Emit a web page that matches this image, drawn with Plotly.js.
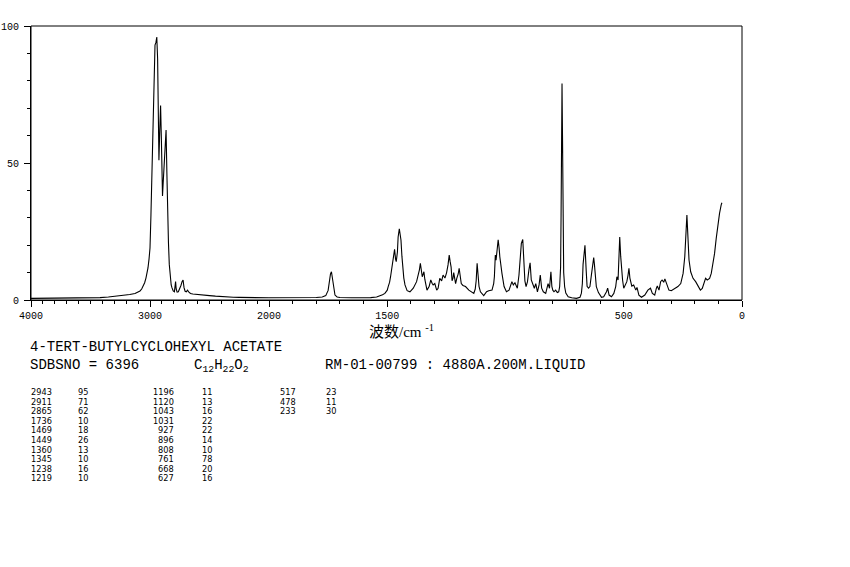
<!DOCTYPE html>
<html>
<head>
<meta charset="utf-8">
<script src="https://cdn.plot.ly/plotly-3.0.1.min.js"></script>
<style>html,body{margin:0;padding:0;background:#fff;}#chart{width:850px;height:567px;}</style>
</head>
<body>
<div id="chart"></div>
<script>
// ---- Spectrum, high-wavenumber panel (4000-2000 cm-1) ----
const wnHigh = [4000,3900,3800,3700,3600,3500,3420,3350,3294,3250,3210,3170,3126,3100,3084,3070,3059,3045,3034,3025,3017,3008,3000,2992,2983,2975,2966,2958,2950,2943,2936,2930,2925,2918,2911,2904,2898,2895,2889,2880,2873,2865,2858,2852,2845,2838,2830,2822,2815,2805,2795,2790,2785,2780,2772,2762,2750,2740,2730,2722,2714,2705,2695,2685,2675,2660,2640,2600,2550,2500,2450,2400,2350,2300,2250,2200,2150,2100,2050,2000];
const intHigh = [0.6,0.6,0.6,0.6,0.6,0.7,0.85,1.1,1.3,1.5,1.8,2.0,2.4,2.8,3.3,4.0,4.9,6.3,8,9.8,11.7,15,19,31,49,70,86,93,94,96,88,62,51,62,71,58,42,38,43,50,58,62,46,31,21,13,8,5.5,4.4,3.3,3.0,4.5,6.7,4.0,2.9,3.0,4.0,5.3,6.8,7.3,4.5,3.2,3.0,3.6,3.0,2.4,2.2,2.1,1.8,1.6,1.4,1.2,1.1,1.0,0.95,0.9,0.85,0.8,0.8,0.8];

// ---- Spectrum, low-wavenumber panel (2000-0 cm-1) ----
const wnLow = [2000,1950,1900,1850,1800,1775,1760,1750,1745,1740,1736,1732,1728,1721,1712,1700,1650,1600,1570,1545,1531,1520,1510,1500,1496,1490,1486,1481,1477,1472,1469,1465,1462,1457,1454,1449,1445,1442,1438,1435,1430,1425,1416,1404,1390,1376,1368,1364,1360,1356,1352,1348,1345,1341,1337,1332,1323,1316,1310,1306,1299,1291,1285,1278,1270,1264,1256,1249,1243,1238,1234,1230,1226,1222,1219,1215,1211,1206,1200,1196,1191,1187,1180,1169,1155,1145,1134,1128,1124,1120,1116,1112,1106,1092,1080,1071,1057,1050,1047,1043,1040,1035,1031,1027,1024,1015,1006,996,985,973,967,960,950,943,938,933,927,923,918,913,907,901,896,891,883,878,872,865,858,853,847,840,830,824,820,814,811,808,804,800,795,788,781,775,771,767,765,763,761,759,757,754,750,745,735,720,700,685,679,675,672,668,664,659,655,649,643,637,633,630,627,624,620,616,607,594,585,573,568,562,552,542,534,529,524,520,517,513,508,505,500,493,487,482,478,474,470,466,458,449,444,436,425,411,398,387,379,369,362,358,351,344,338,331,326,317,309,299,285,271,259,249,242,238,233,229,224,217,207,196,186,176,168,161,154,147,137,130,123,116,109,102,95,88,85];
const intLow = [0.8,0.8,0.8,0.8,0.9,1.1,1.6,3.5,6.7,9.5,10.3,8,4.9,1.8,1.1,0.9,0.8,0.8,0.85,1.1,1.5,1.9,2.4,3.6,4.9,6.5,8.5,11.5,14.6,17.5,18.5,15,14,17.5,23,26,24,21.9,16,12.2,8,5.5,3.4,3,4.3,6.7,9,11,13.4,10,8.5,9.5,10.3,7.5,5,3.6,4.9,7.3,6,5.5,6,3.6,4.3,7.9,7,9.1,8,10,12.8,16.4,14,12,7,8,10,7,6,7.9,9.5,11.6,8,6,5.3,4.9,3.6,3,2.4,4,7,13.4,8,5,3,1.6,3,3.4,3.6,6,8.5,16.4,14.5,20,22,19,15.8,9.7,4.9,3,3.6,6.7,5.5,6.3,4.3,9.1,17,20.7,22.1,14,7,4.9,6.7,11,13.6,7.3,5.5,4.3,6,3,5.5,9.1,4.3,3,2.4,4.9,6,4.3,7,10.3,5,3.6,3,3.6,2.7,3,4.9,12,31,70,79,60,31,10,4.9,2.5,1.2,0.8,0.6,1,2.5,6,13,16,20,11,5,4.3,4.9,9,11.6,14,15.5,13,9,4.9,2.7,1,1.2,3,4.3,1.8,1.2,2.4,4.9,8.5,7.3,16,23,16,9,7.3,4.3,6,6.7,9,11.6,8,6,5.1,5.5,3.6,4.6,1.8,1,1.8,3.6,4.3,2.4,1.8,4.3,5.1,3.6,6.7,7.3,6.5,7.7,5.5,3.6,3.4,4,4.9,6,9.7,15.8,25.5,31,23.7,14.6,10.3,7.9,6.7,4.9,3.6,4.2,6,7.9,7.3,7.9,9.7,12.8,17,22.5,28,31.6,34.7,35.5];

// ---- Axis tick labels ----
const xTicksHigh = [4000, 3000];
const xTicksLow = [2000, 1500, 500, 0];
const yTicks = [0, 50, 100];

// ---- Header texts ----
const compoundName = "4-TERT-BUTYLCYCLOHEXYL ACETATE";
const sdbsNo = "SDBSNO = 6396";
const formula = "C<sub>12</sub>H<sub>22</sub>O<sub>2</sub>";
const measurement = "RM-01-00799 : 4880A.200M.LIQUID";
const xTitle = "波数/cm <sup>-1</sup>";

// ---- Peak table ----
const peakWn1 = [2943,2911,2865,1736,1469,1449,1360,1345,1238,1219];
const peakInt1 = [95,71,62,10,18,26,13,10,16,10];
const peakWn2 = [1196,1120,1043,1031,927,896,808,761,668,627];
const peakInt2 = [11,13,16,22,22,14,10,78,20,16];
const peakWn3 = [517,478,233];
const peakInt3 = [23,11,30];

// ---- layout helpers (pixel -> paper) ----
const L = 31, R = 742, T = 26, B = 300;
const px = x => (x - L) / (R - L);
const py = y => (B - y) / (B - T);
const split = 238 / 711;

const lineStyle = {color: '#000', width: 1.1};
const traces = [
  {x: wnHigh, y: intHigh, type: 'scatter', mode: 'lines', line: lineStyle, xaxis: 'x', yaxis: 'y', hoverinfo: 'skip'},
  {x: wnLow, y: intLow, type: 'scatter', mode: 'lines', line: lineStyle, xaxis: 'x2', yaxis: 'y', hoverinfo: 'skip'}
];

const mono = 'Liberation Mono, DejaVu Sans Mono, monospace';
const tickFont = {family: mono, size: 10, color: '#000'};
const minorX = {tickmode: 'linear', tick0: 0, dtick: 100, ticks: 'outside', ticklen: 3, tickcolor: '#000', tickwidth: 1, showgrid: false};
const baseX = {
  ticks: 'outside', ticklen: 6, tickwidth: 1, tickcolor: '#000', showgrid: false, zeroline: false,
  showline: true, linecolor: '#000', linewidth: 1, tickfont: tickFont, fixedrange: true,
  tickmode: 'array', minor: minorX, anchor: 'y'
};

const annotations = [];
const ann = (text, x, y, xanchor, size, family) => annotations.push({
  text: text, xref: 'paper', yref: 'paper', x: px(x), y: py(y), xanchor: xanchor, yanchor: 'middle',
  showarrow: false, borderpad: 0,
  font: {family: family || mono, size: size, color: '#000'}
});

ann(xTitle, 401, 331, 'center', 15, 'Liberation Serif, Noto Sans CJK SC, serif');
ann(compoundName, 29, 347, 'left', 14);
ann(sdbsNo, 29, 365, 'left', 14);
ann(formula, 193, 366, 'left', 14);
ann(measurement, 324, 365, 'left', 14);

// peak table: (wavenumber, intensity) pairs in three column groups
const tFont = 'DejaVu Sans, Liberation Sans, sans-serif';
const tSize = 8.2, rowY0 = 392, rowDy = 9.6;
const addCol = (wns, ints, xr, xl) => wns.forEach((v, i) => {
  ann(String(v), xr, rowY0 + i * rowDy, 'right', tSize, tFont);
  ann(String(ints[i]), xl, rowY0 + i * rowDy, 'left', tSize, tFont);
});
addCol(peakWn1, peakInt1, 53, 77);
addCol(peakWn2, peakInt2, 175, 201);
addCol(peakWn3, peakInt3, 297, 325);

const layout = {
  width: 850, height: 567,
  margin: {l: L, r: 850 - R, t: T, b: 567 - B, pad: 0},
  paper_bgcolor: '#fff', plot_bgcolor: '#fff',
  showlegend: false,
  xaxis: Object.assign({}, baseX, {domain: [0, split], range: [4000, 2000], tickvals: xTicksHigh, ticktext: xTicksHigh.map(String)}),
  xaxis2: Object.assign({}, baseX, {domain: [split, 1], range: [2000, 0], tickvals: xTicksLow, ticktext: xTicksLow.map(String)}),
  yaxis: {
    domain: [0, 1], range: [0, 100], tickmode: 'array', tickvals: yTicks, ticktext: yTicks.map(String),
    ticks: 'outside', ticklen: 6, tickwidth: 1, tickcolor: '#000', showgrid: false, zeroline: false,
    showline: true, linecolor: '#000', linewidth: 1, tickfont: tickFont, fixedrange: true, ticklabelstandoff: 3,
    minor: {tickmode: 'linear', tick0: 0, dtick: 10, ticks: 'outside', ticklen: 3, tickcolor: '#000', tickwidth: 1, showgrid: false}
  },
  shapes: [{type: 'rect', xref: 'paper', yref: 'paper', x0: 0, x1: 1, y0: 0, y1: 1, line: {color: '#000', width: 1}, fillcolor: 'rgba(0,0,0,0)'}],
  annotations: annotations
};

Plotly.newPlot('chart', traces, layout, {displayModeBar: false, staticPlot: true});
</script>
</body>
</html>
